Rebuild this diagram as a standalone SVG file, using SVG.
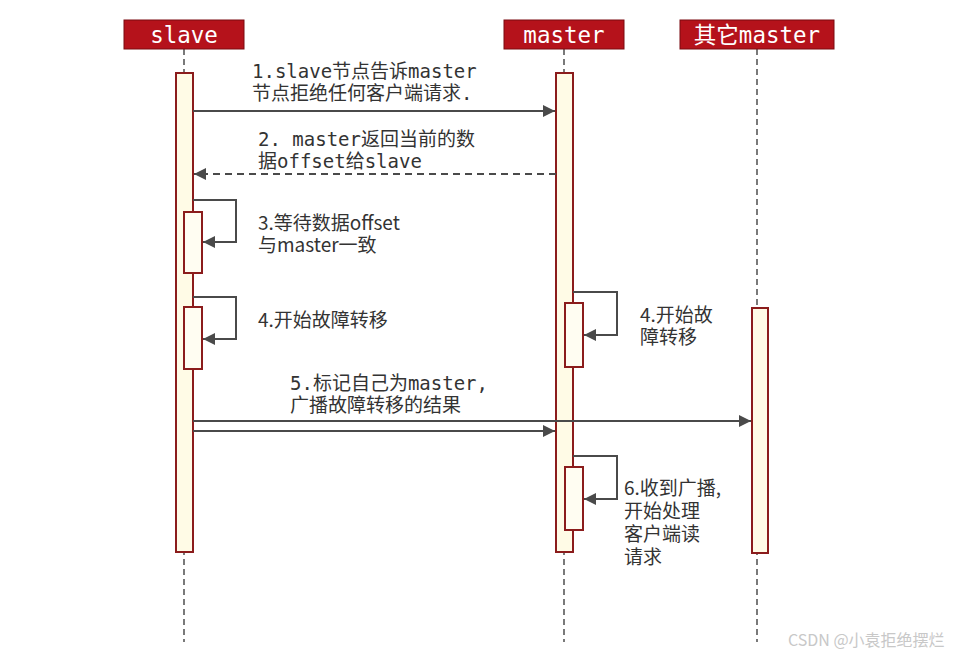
<svg xmlns="http://www.w3.org/2000/svg" width="976" height="660" viewBox="0 0 976 660">
<style>
.hdr{fill:#b5121b;stroke:#7a0a10;stroke-width:1}
.hdrt{font-family:"DejaVu Sans Mono","Noto Sans CJK SC",monospace;font-size:22.5px;fill:#ffffff;text-anchor:middle}
.life{stroke:#222;stroke-width:1.2;stroke-dasharray:6 4;fill:none}
.bar{fill:#fffbe6;stroke:#8b1c1c;stroke-width:2}
.sub{fill:#fffdf2;stroke:#8b1c1c;stroke-width:2}
.msg{stroke:#4a4a4a;stroke-width:2;fill:none}
.dash{stroke-dasharray:7 5}
.mono{font-family:"DejaVu Sans Mono","Noto Sans CJK SC",monospace;font-size:19px;fill:#333}
.sans{font-family:"Noto Sans CJK SC","Noto Sans",sans-serif;font-size:19px;fill:#333}
.wm{font-family:"Noto Sans CJK SC","Liberation Sans",sans-serif;font-size:16px;fill:#c8c8c8}
</style>
<defs>
<marker id="ah" viewBox="0 0 10 10" refX="10" refY="5" markerWidth="6" markerHeight="6" orient="auto" markerUnits="strokeWidth">
<path d="M0,0 L10,5 L0,10 z" fill="#4a4a4a"/>
</marker>
</defs>
<rect width="976" height="660" fill="#ffffff"/>
<g id="lifelines">
<line class="life" x1="184" y1="49" x2="184" y2="642"/>
<line class="life" x1="564" y1="49" x2="564" y2="642"/>
<line class="life" x1="757" y1="49" x2="757" y2="642"/>
</g>
<g id="node-slave">
<rect class="hdr" x="124" y="20" width="120" height="29"/>
<text class="hdrt" x="184" y="43">slave</text>
<rect class="bar" x="176" y="73" width="17" height="479"/>
<rect class="sub" x="184" y="212" width="18" height="61"/>
<rect class="sub" x="184" y="307" width="18" height="62"/>
</g>
<g id="node-master">
<rect class="hdr" x="504" y="20" width="120" height="29"/>
<text class="hdrt" x="564" y="43">master</text>
<rect class="bar" x="556" y="73" width="17" height="479"/>
<rect class="sub" x="565" y="303" width="18" height="64"/>
<rect class="sub" x="565" y="467" width="18" height="63"/>
</g>
<g id="node-other-master">
<rect class="hdr" x="680" y="20" width="154" height="29"/>
<text class="hdrt" x="757" y="43">其它master</text>
<rect class="bar" x="752" y="308" width="16" height="245"/>
</g>
<g id="connectors">
<line class="msg" x1="193" y1="111" x2="555" y2="111" marker-end="url(#ah)"/>
<line class="msg dash" x1="556" y1="174" x2="194" y2="174" marker-end="url(#ah)"/>
<polyline class="msg" points="193,200 236,200 236,242 203,242" marker-end="url(#ah)"/>
<polyline class="msg" points="193,297 236,297 236,339 203,339" marker-end="url(#ah)"/>
<polyline class="msg" points="573,292 617,292 617,335 584,335" marker-end="url(#ah)"/>
<line class="msg" x1="193" y1="421" x2="751" y2="421" marker-end="url(#ah)"/>
<line class="msg" x1="193" y1="431" x2="555" y2="431" marker-end="url(#ah)"/>
<polyline class="msg" points="573,456 617,456 617,499 584,499" marker-end="url(#ah)"/>
</g>
<g id="labels">
<text class="mono" x="252" y="78">1.slave节点告诉master</text>
<text class="mono" x="252" y="100">节点拒绝任何客户端请求.</text>
<text class="mono" x="258" y="146">2. master返回当前的数</text>
<text class="mono" x="258" y="168">据offset给slave</text>
<text class="sans" x="258" y="230">3.等待数据offset</text>
<text class="sans" x="258" y="252">与master一致</text>
<text class="sans" x="258" y="327">4.开始故障转移</text>
<text class="sans" x="640" y="322">4.开始故</text>
<text class="sans" x="640" y="344">障转移</text>
<text class="mono" x="290" y="390">5.标记自己为master,</text>
<text class="mono" x="290" y="412">广播故障转移的结果</text>
<text class="sans" x="624" y="495">6.收到广播,</text>
<text class="sans" x="624" y="518">开始处理</text>
<text class="sans" x="624" y="541">客户端读</text>
<text class="sans" x="624" y="564">请求</text>
</g>
<text class="wm" x="788" y="646">CSDN @小袁拒绝摆烂</text>
</svg>
